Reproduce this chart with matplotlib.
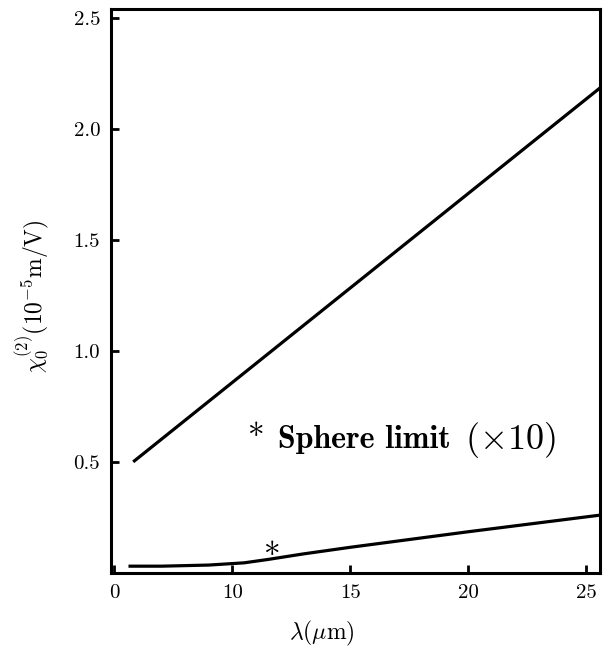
import numpy as np
import matplotlib
matplotlib.use('Agg')
from matplotlib import pyplot as plt

# upper line (full calculation)
lam_upper = [5.8, 25.6]
chi_upper = [0.50, 2.185]

# lower curve (sphere limit, x10)
lam_lower = [5.6, 7.0, 9.0, 10.5, 11.5, 13.0, 15.0, 20.0, 25.6]
chi_lower = [0.03, 0.03, 0.035, 0.045, 0.06, 0.085, 0.115, 0.185, 0.26]

xticks = [5, 10, 15, 20, 25]
xtick_labels = ['0', '10', '15', '20', '25']
yticks = [0.5, 1.0, 1.5, 2.0, 2.5]
ytick_labels = ['0.5', '1.0', '1.5', '2.0', '2.5']

plt.rcParams['font.family'] = 'cmr10'
plt.rcParams['mathtext.fontset'] = 'cm'
plt.rcParams['axes.formatter.use_mathtext'] = True

fig = plt.figure(figsize=(6.08, 6.48), dpi=100)
ax = fig.add_axes([0.183, 0.116, 0.804, 0.870])

ax.plot(lam_upper, chi_upper, color='black', lw=2.3, solid_capstyle='butt')
ax.plot(lam_lower, chi_lower, color='black', lw=2.3, solid_capstyle='butt')

ax.text(11.7, 0.068, '*', fontsize=24, ha='center', va='center', family='cmr10')
ax.text(11.0, 0.605, '*', fontsize=24, ha='center', va='center', family='cmr10')
ax.text(11.95, 0.60, 'Sphere limit', fontsize=23, ha='left', va='center', family='cmb10')
ax.text(19.85, 0.60, r'$(\times 10)$', fontsize=26, ha='left', va='center')

ax.set_xlim(4.87, 25.6)
ax.set_ylim(0.0, 2.54)
ax.set_xticks(xticks)
ax.set_xticklabels(xtick_labels)
ax.set_yticks(yticks)
ax.set_yticklabels(ytick_labels)
ax.tick_params(direction='in', length=6, width=2, labelsize=15, pad=8)
for s in ax.spines.values():
    s.set_linewidth(2.2)

ax.set_xlabel(r'$\lambda(\mu\mathrm{m})$', fontsize=17)
ax.set_ylabel(r'$\chi_0^{(2)}(10^{-5}\mathrm{m/V})$', fontsize=17)
ax.xaxis.set_label_coords(0.43, -0.082)
ax.yaxis.set_label_coords(-0.122, 0.49)

fig.savefig('out.png', dpi=100)
